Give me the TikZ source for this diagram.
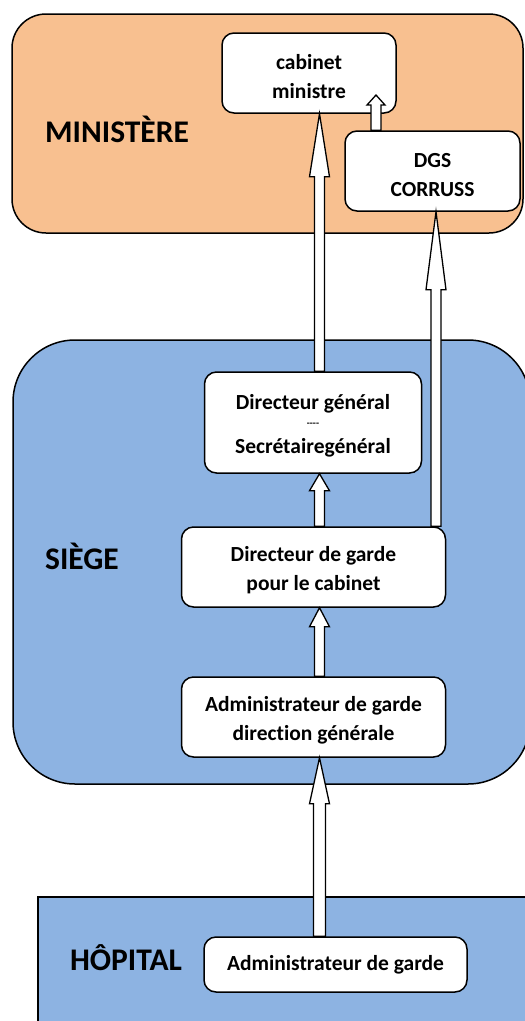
\documentclass[tikz,border=0pt]{standalone}
\usepackage{fontspec}
\setmainfont{Carlito}[Ligatures={NoCommon}]
\usetikzlibrary{calc}
\definecolor{orangefill}{HTML}{F8C090}
\definecolor{bluefill}{HTML}{8DB3E2}
\newcommand\topstrut{\rule{0pt}{21.5pt}}
\tikzset{
  region/.style={draw=black, line width=1.5pt},
  box/.style={draw=black, fill=white, line width=1.5pt, rounded corners=12pt,
    align=center, font=\bfseries\fontsize{21.5}{29}\selectfont, inner sep=0pt},
  biglabel/.style={font=\bfseries\fontsize{31.5}{33}\selectfont, inner sep=0pt},
  fat/.style={draw=black, fill=white, line width=1.3pt, line join=miter}
}
% #1 from, #2 to, #3 half shaft, #4 half head, #5 head length
\newcommand\fatarrow[5]{%
  \draw[fat] let \p1=(#1), \p2=(#2) in
    (\x1-#3,\y1) -- (\x1-#3,\y2-#5) -- (\x1-#4,\y2-#5) -- (\x2,\y2)
    -- (\x1+#4,\y2-#5) -- (\x1+#3,\y2-#5) -- (\x1+#3,\y1) -- cycle;
}
\begin{document}
\begin{tikzpicture}[x=1pt,y=-1pt]
\useasboundingbox (0,0) rectangle (525,1021);
\clip (0,0) rectangle (525,1021);
\fill[white] (0,0) rectangle (525,1021);

% regions
\draw[region, fill=orangefill, rounded corners=34pt] (12,14) rectangle (523,233);
\draw[region, fill=bluefill, rounded corners=62pt] (13,340) rectangle (530,784);
\draw[region, fill=bluefill] (38,897) rectangle (540,1040);

\node[biglabel] (lmin) at (117,129) {MINISTÈRE};
\node[biglabel] (lsiege) at (82,556) {SIÈGE};
\node[biglabel] (lhop) at (126,958) {HÔPITAL};

% boxes
\node[box, minimum width=174pt, minimum height=80pt] (cab) at (309,73) {\topstrut cabinet\\ministre};
\node[box, minimum width=175pt, minimum height=80pt] (dgs) at (432.5,171) {\topstrut DGS\\CORRUSS};
\node[box, minimum width=217pt, minimum height=101pt, font=\bfseries\fontsize{21.5}{22}\selectfont] (dg) at (313,422.5)
  {\topstrut Directeur général\\\raisebox{5pt}{\fontsize{10}{10}\selectfont {-}{-}{-}{-}}\\Secrétairegénéral};
\node[box, minimum width=264pt, minimum height=80pt] (dgarde) at (313.5,567) {\topstrut Directeur de garde\\pour le cabinet};
\node[box, minimum width=264pt, minimum height=80pt] (adir) at (313.5,717) {\topstrut Administrateur de garde\\direction générale};
\node[box, minimum width=263pt, minimum height=55pt] (hadm) at (335.5,964.5) {Administrateur de garde};

% arrow columns
\coordinate (ax) at (319.5,0);
\coordinate (bx) at (436,0);
\coordinate (ctip) at (376,95);

\fatarrow{dg.north -| ax}{cab.south -| ax}{5pt}{10pt}{63pt}
\fatarrow{dgarde.north -| ax}{dg.south -| ax}{5pt}{10pt}{17pt}
\fatarrow{adir.north -| ax}{dgarde.south -| ax}{5pt}{10pt}{19pt}
\fatarrow{hadm.north -| ax}{adir.south -| ax}{6pt}{10pt}{46pt}
\fatarrow{dgarde.north -| bx}{dgs.south -| bx}{5pt}{10pt}{78pt}
\fatarrow{dgs.north -| ctip}{ctip}{5pt}{9pt}{10pt}
\end{tikzpicture}
\end{document}
